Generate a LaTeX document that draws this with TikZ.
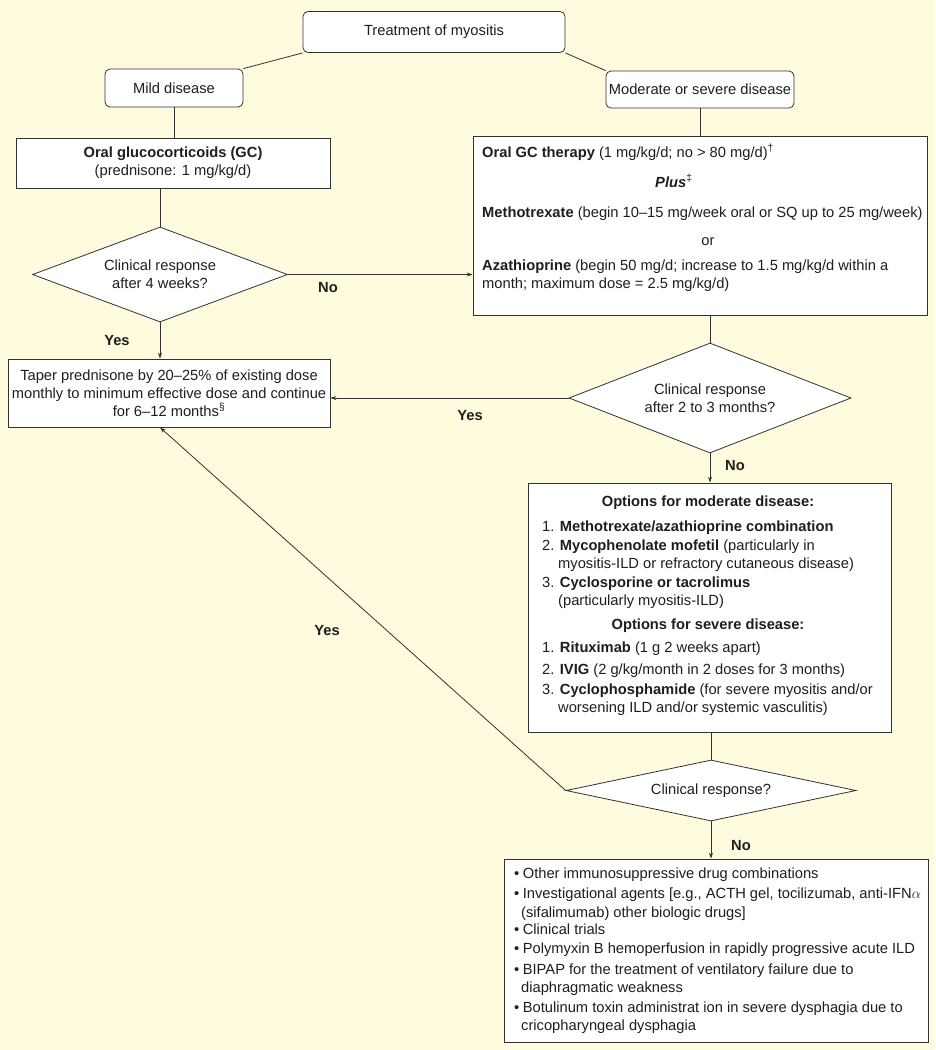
\documentclass[tikz,border=0pt]{standalone}
\usepackage{fontspec}
\setmainfont{Liberation Sans}
\usetikzlibrary{shapes.geometric,arrows.meta,calc}
\definecolor{bgc}{RGB}{255,251,222}
\definecolor{linec}{RGB}{50,50,50}
\definecolor{txtc}{RGB}{30,30,30}
\newcommand{\fs}{\fontsize{14.7}{17.8}\selectfont}
\begin{document}
\begin{tikzpicture}[x=1pt,y=-1pt,
  every node/.style={text=txtc, font=\fs},
  box/.style={draw=linec, fill=white, line width=0.8pt, inner sep=0, align=center},
  rbox/.style={box, rounded corners=5pt},
  dia/.style={draw=linec, fill=white, line width=0.8pt, diamond, inner sep=0, align=center},
  txt/.style={inner sep=0, anchor=base west},
  lab/.style={inner sep=0, font=\fs\bfseries},
  conn/.style={draw=linec, line width=0.8pt},
  arr/.style={conn, -{Stealth[length=6pt,width=4pt]}}]

\fill[bgc] (0,0) rectangle (935,1050);
\useasboundingbox (0,0) rectangle (935,1050);

% boxes
\node[rbox, minimum width=262, minimum height=41] (top) at (434,32) {Treatment of myositis};
\node[rbox, minimum width=138, minimum height=38] (mild) at (174,88) {Mild disease};
\node[rbox, minimum width=188, minimum height=37] (mod) at (700,89.5) {Moderate or severe disease};
\node[box, minimum width=314, minimum height=50] (gc) at (173,163) {\textbf{Oral glucocorticoids (GC)}\\(prednisone: 1 mg/kg/d)};
\node[dia, aspect=2.7, minimum width=255, minimum height=95] (d1) at (160,274.5) {Clinical response\\after 4 weeks?};
\node[box, minimum width=322, minimum height=68] (taper) at (169,393) {Taper prednisone by 20–25\% of existing dose\\monthly to minimum effective dose and continue\\for 6–12 months\textsuperscript{§}};
\node[box, minimum width=454, minimum height=179] (plus) at (700,225.5) {};
\node[dia, aspect=2.56, minimum width=282, minimum height=110] (d2) at (710,398) {Clinical response\\after 2 to 3 months?};
\node[box, minimum width=363, minimum height=249] (opt) at (709.5,607.5) {};
\node[dia, aspect=4.75, minimum width=290, minimum height=61] (d3) at (711,790.5) {Clinical response?};
\node[box, minimum width=424, minimum height=183] (other) at (716,950.5) {};

% connectors
\draw[conn] (top.south west) -- (mild.north east);
\draw[conn] (top.south east) -- (mod.north west);
\draw[conn] (mild.south) -- (mild.south |- gc.north);
\draw[conn] (d1.north |- gc.south) -- (d1.north);
\draw[arr] (d1.east) -- (d1.east -| plus.west);
\draw[arr] (d1.south) -- (d1.south |- taper.north);
\draw[conn] (mod.south) -- (mod.south |- plus.north);
\draw[conn] (d2.north |- plus.south) -- (d2.north);
\draw[arr] (d2.west) -- (d2.west -| taper.east);
\draw[arr] (d2.south) -- (d2.south |- opt.north);
\draw[conn] (d3.north |- opt.south) -- (d3.north);
\draw[arr] (d3.south) -- (d3.south |- other.north);
\draw[arr] (d3.west) -- (d1.south |- taper.south);

% plus box text
\node[txt] (p1) at (482,157) {\textbf{Oral GC therapy} (1 mg/kg/d; no > 80 mg/d)\textsuperscript{†}};
\node[txt] (p2) at (655,187) {\textbf{\textit{Plus}}\textsuperscript{‡}};
\node[txt] (p3) at (482,217) {\textbf{Methotrexate} (begin 10–15 mg/week oral or SQ up to 25 mg/week)};
\node[txt, anchor=base] (p4) at (708,245) {or};
\node[txt] (p5) at (482,270) {\textbf{Azathioprine} (begin 50 mg/d; increase to 1.5 mg/kg/d within a};
\node[txt] (p6) at (482,288) {month; maximum dose = 2.5 mg/kg/d)};

% options box text
\node[txt, anchor=base, font=\fs\bfseries] (o0) at (708,506) {Options for moderate disease:};
\node[txt] (o1) at (542,531) {1. \textbf{Methotrexate/azathioprine combination}};
\node[txt] (o2) at (542,550) {2. \textbf{Mycophenolate mofetil} (particularly in};
\node[txt] (o3) at (558,568) {myositis-ILD or refractory cutaneous disease)};
\node[txt] (o4) at (542,587) {3. \textbf{Cyclosporine or tacrolimus}};
\node[txt] (o5) at (558,605) {(particularly myositis-ILD)};
\node[txt, anchor=base, font=\fs\bfseries] (o6) at (708,629) {Options for severe disease:};
\node[txt] (o7) at (542,652) {1. \textbf{Rituximab} (1 g 2 weeks apart)};
\node[txt] (o8) at (542,674) {2. \textbf{IVIG} (2 g/kg/month in 2 doses for 3 months)};
\node[txt] (o9) at (542,694) {3. \textbf{Cyclophosphamide} (for severe myositis and/or};
\node[txt] (o10) at (558,712) {worsening ILD and/or systemic vasculitis)};

% other box text
\node[txt] (b1) at (514,878) {•\kern3.5pt Other immunosuppressive drug combinations};
\node[txt] (b2) at (514,898) {•\kern3.5pt Investigational agents [e.g., ACTH gel, tocilizumab, anti-IFN$\alpha$};
\node[txt] (b3) at (521,917) {(sifalimumab) other biologic drugs]};
\node[txt] (b4) at (514,934) {•\kern3.5pt Clinical trials};
\node[txt] (b5) at (514,953) {•\kern3.5pt Polymyxin B hemoperfusion in rapidly progressive acute ILD};
\node[txt] (b6) at (514,974) {•\kern3.5pt BIPAP for the treatment of ventilatory failure due to};
\node[txt] (b7) at (521,992) {diaphragmatic weakness};
\node[txt] (b8) at (514,1012) {•\kern3.5pt Botulinum toxin administrat ion in severe dysphagia due to};
\node[txt] (b9) at (521,1030) {cricopharyngeal dysphagia};

% labels
\node[lab] (no1) at (328,288) {No};
\node[lab] (yes1) at (117,341) {Yes};
\node[lab] (yes2) at (470,416) {Yes};
\node[lab] (no2) at (735,466) {No};
\node[lab] (yes3) at (327,631) {Yes};
\node[lab] (no3) at (741,846) {No};
\end{tikzpicture}
\end{document}
